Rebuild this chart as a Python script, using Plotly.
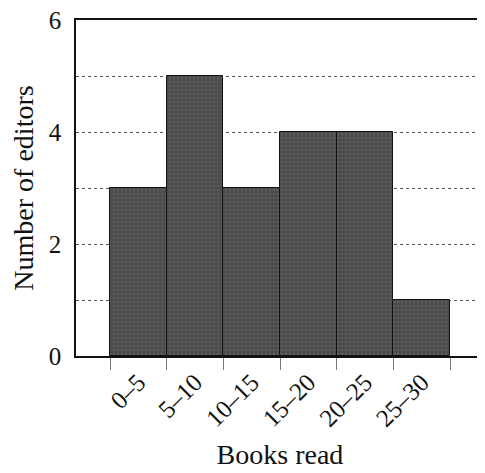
import plotly.graph_objects as go

categories = ["0–5", "5–10", "10–15", "15–20", "20–25", "25–30"]
bin_starts = [0, 5, 10, 15, 20, 25]
bin_width = 5
counts = [3, 5, 3, 4, 4, 1]
y_tick_vals = [0, 2, 4, 6]

centers = [s + bin_width / 2 for s in bin_starts]
edges = bin_starts + [bin_starts[-1] + bin_width]

font_family = "Liberation Serif, Times New Roman, serif"

fig = go.Figure(
    go.Bar(
        x=centers,
        y=counts,
        width=bin_width,
        marker=dict(
            color="#4c4c4c",
            line=dict(color="#111111", width=1),
            pattern=dict(shape=".", fgcolor="#7a7a7a", size=4, solidity=0.2),
        ),
        hoverinfo="skip",
    )
)

# page body has an 8px default margin, so the figure is a bit smaller
fig.update_layout(
    width=477,
    height=465,
    margin=dict(l=68, r=1, t=12, b=117),
    paper_bgcolor="white",
    plot_bgcolor="white",
    showlegend=False,
    bargap=0,
    font=dict(family=font_family, color="#111111", size=24),
)

fig.update_xaxes(
    automargin=False,
    range=[-3, 33],
    tickmode="array",
    tickvals=centers,
    ticktext=categories,
    tickangle=-45,
    ticks="",
    tickfont=dict(size=25),
    ticklabeloverflow="allow",
    showgrid=False,
    zeroline=False,
    showline=True,
    linecolor="#111111",
    linewidth=1.5,
    mirror=True,
    minor=dict(tickvals=edges, ticks="outside", ticklen=12, tickcolor="#777777", tickwidth=1),
    title=dict(text="Books read", font=dict(size=28), standoff=14),
)

fig.update_yaxes(
    automargin=False,
    range=[0, 6],
    tickmode="array",
    tickvals=y_tick_vals,
    ticks="",
    tickfont=dict(size=25),
    ticklabeloverflow="allow",
    ticklabelstandoff=8,
    showgrid=True,
    gridcolor="#555555",
    griddash="dot",
    gridwidth=1,
    minor=dict(dtick=1, showgrid=True, gridcolor="#555555", griddash="dot", gridwidth=1),
    zeroline=False,
    showline=True,
    linecolor="#111111",
    linewidth=1.5,
    mirror=True,
    title=dict(text="Number of editors", font=dict(size=28), standoff=8),
)

fig.write_html("out.html")
